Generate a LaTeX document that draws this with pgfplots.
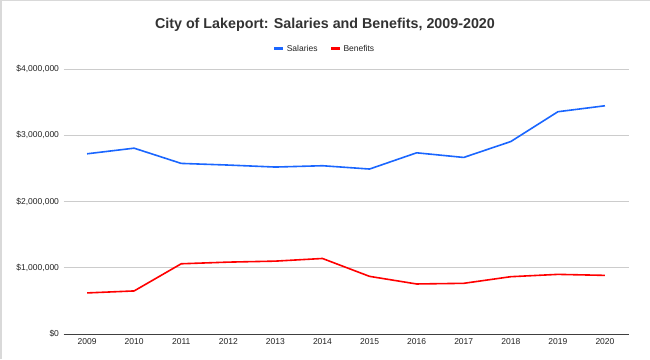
\documentclass[border=0pt]{standalone}
\usepackage{fontspec}
\setmainfont{Liberation Sans}
\usepackage{pgfplots}
\pgfplotsset{compat=1.18}
\definecolor{sal}{HTML}{1A66FF}
\definecolor{ben}{HTML}{FF0000}
\definecolor{gridc}{HTML}{CCCCCC}
\definecolor{txt}{HTML}{333333}
\definecolor{ticktxt}{HTML}{222222}
\begin{document}
\begin{tikzpicture}[x=1pt,y=1pt]
\path[use as bounding box] (0,0) rectangle (650,359);
\draw[color=black!15, line width=1.5pt] (0.75,0) -- (0.75,358.25) -- (650,358.25);
\begin{axis}[
  at={(63.5pt,25pt)}, anchor=south west,
  scale only axis, width=565pt, height=265pt,
  xmin=2008.5, xmax=2020.5, ymin=0, ymax=4000000,
  xtick={2009,2010,...,2020},
  ytick={0,1000000,2000000,3000000,4000000},
  scaled y ticks=false,
  /pgf/number format/assume math mode=true,
  xticklabel style={/pgf/number format/1000 sep={}, font=\fontsize{8.5}{10}\selectfont, text=ticktxt, yshift=-1pt},
  yticklabel={\$\pgfmathprintnumber[fixed,1000 sep={,}]{\tick}},
  yticklabel style={font=\fontsize{8.5}{10}\selectfont, text=ticktxt, xshift=-1pt},
  major tick length=0pt,
  ymajorgrids, major grid style={gridc, line width=0.8pt},
  axis x line=bottom, axis y line=left,
  x axis line style={-, draw=black!75, line width=0.8pt},
  y axis line style={draw=none},
  every axis title shift=0pt,
  title={City of Lakeport: Salaries and Benefits, 2009-2020},
  title style={at={(0.4628,1.1536)}, anchor=base, font=\fontsize{14.3}{16}\selectfont\bfseries, text=txt},
  legend style={at={(0.462,1.076)}, anchor=center, draw=none, fill=none,
    font=\fontsize{8.5}{10}\selectfont, text=ticktxt, legend columns=2,
    /tikz/every even column/.append style={column sep=10pt}},
  legend image code/.code={\draw[#1, line width=3pt] (0pt,0pt) -- (9pt,0pt);},
]
\addplot[sal, line width=1.6pt, line join=round] coordinates {
 (2009,2720000) (2010,2805000) (2011,2575000) (2012,2550000) (2013,2520000) (2014,2540000)
 (2015,2490000) (2016,2735000) (2017,2665000) (2018,2905000) (2019,3355000) (2020,3445000)};
\addlegendentry{Salaries}
\addplot[ben, line width=1.6pt, line join=round] coordinates {
 (2009,620000) (2010,650000) (2011,1060000) (2012,1085000) (2013,1100000) (2014,1140000)
 (2015,870000) (2016,755000) (2017,765000) (2018,865000) (2019,900000) (2020,885000)};
\addlegendentry{Benefits}
\end{axis}
\end{tikzpicture}
\end{document}
